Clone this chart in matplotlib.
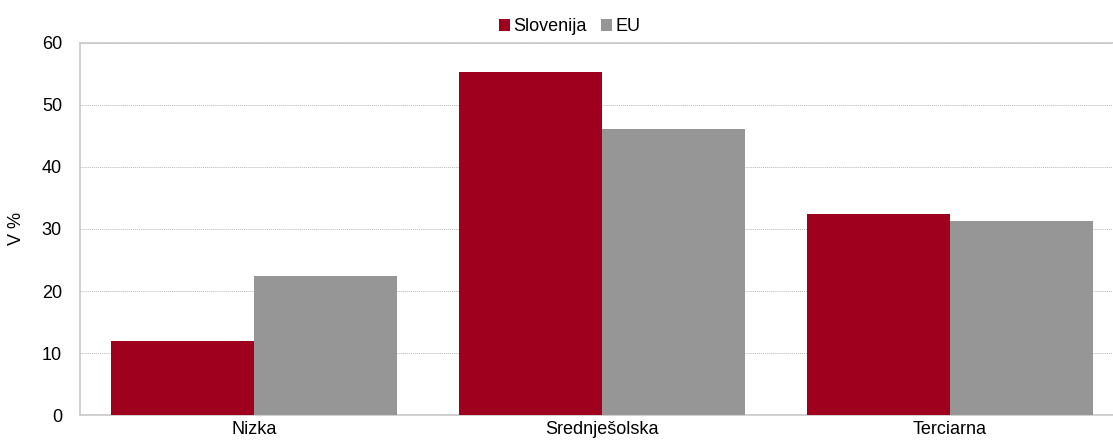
import matplotlib
matplotlib.use('Agg')
import matplotlib.pyplot as plt
import numpy as np

categories = ['Nizka', 'Srednješolska', 'Terciarna']
slovenija = [12.0, 55.3, 32.4]
eu = [22.4, 46.1, 31.3]

plt.rcParams['font.family'] = ['Liberation Sans', 'DejaVu Sans']

fig = plt.figure(figsize=(11.13, 4.41), dpi=100)
# plot area runs past the right edge of the picture, as in the reference
ax = fig.add_axes([80/1113, 26/441, 1044/1113, 372/441])

x = np.arange(len(categories))
w = 0.412
ax.bar(x - w/2, slovenija, w, color='#9e001e', label='Slovenija', zorder=3)
ax.bar(x + w/2, eu, w, color='#969696', label='EU', zorder=3)

ax.set_xlim(-0.5, 2.5)
ax.set_ylim(0, 60)
ax.set_yticks(range(0, 61, 10))
ax.set_xticks(x)
ax.set_xticklabels(categories, fontsize=13)
ax.tick_params(axis='y', labelsize=13, length=0, pad=13)
ax.tick_params(axis='x', length=0, pad=4)
ax.set_ylabel('V %', fontsize=13, labelpad=12)
ax.yaxis.grid(True, color='#b8b8b8', linestyle=(0, (1, 1)), linewidth=0.7, zorder=0)

for s in ax.spines.values():
    s.set_color('#c8c8c8')
    s.set_linewidth(1.2)
ax.spines['right'].set_visible(False)

ax.legend(loc='lower center', bbox_to_anchor=(0.5 - 32/1044, 1.001), ncol=2, frameon=False,
          fontsize=13, handlelength=0.6, handleheight=0.6, handletextpad=0.2,
          columnspacing=0.8, borderaxespad=0)

fig.savefig('out.png', dpi=100)
